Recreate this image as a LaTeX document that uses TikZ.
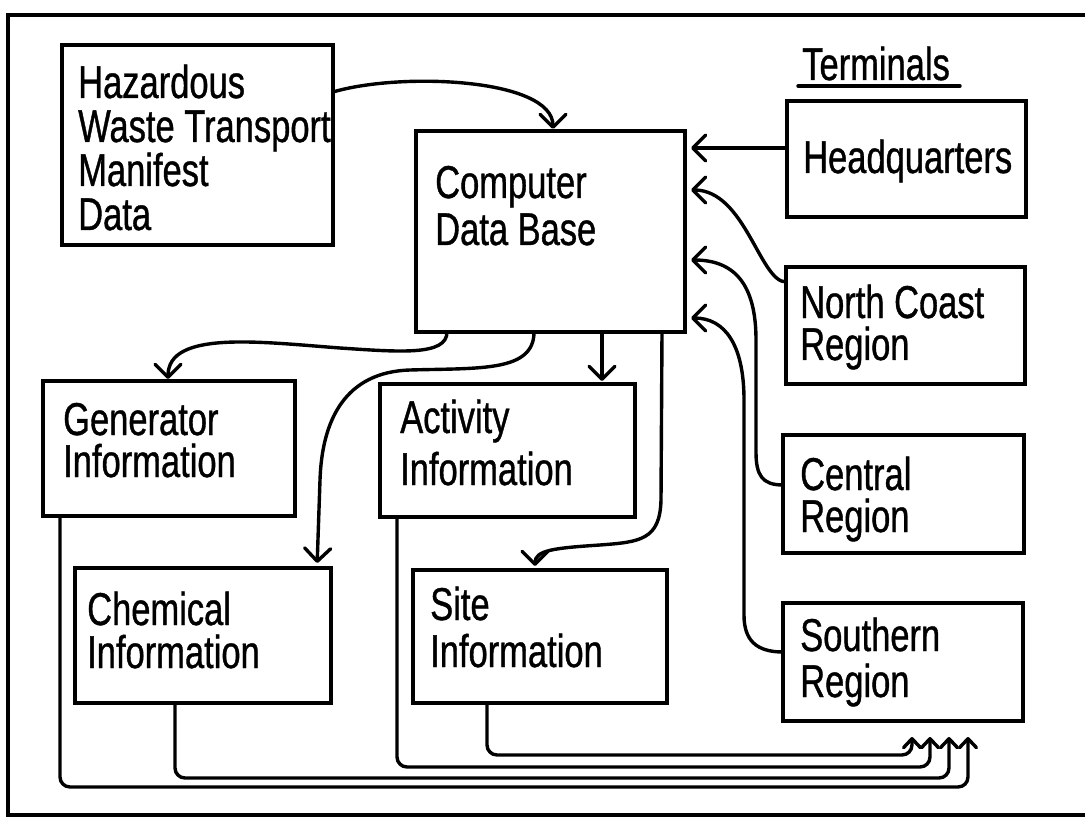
\documentclass[tikz,border=0pt]{standalone}
\usepackage{fontspec}
\setmainfont{Liberation Sans}[FakeStretch=0.75,FakeBold=0.8]
\usetikzlibrary{arrows.meta}
\begin{document}
\begin{tikzpicture}[x=1pt,y=-1pt,
  box/.style={draw, line width=4pt, anchor=north west, inner sep=0pt, outer sep=0pt},
  % text blocks are placed by the baseline of their last line
  lbl/.style={anchor=base west, inner sep=0pt, align=left,
    font=\fontsize{46}{#1}\selectfont},
  lbl/.default=44,
  link/.style={line width=3.4pt, line cap=round, line join=round,
    -{Straight Barb[length=13pt,width=26pt,round]}},
  back/.style={line width=3.4pt, line cap=round, rounded corners=10pt,
    -{Straight Barb[length=9pt,width=17pt,round]}, shorten >=16pt},
]
\useasboundingbox (0,0) rectangle (1085,818);

% page frame
\draw[line width=4pt] (1095,15) -- (8,15) -- (8,815) -- (1095,815);

% boxes
\node[box, minimum width=271pt, minimum height=200pt] (haz)  at (62,45)   {};
\node[box, minimum width=269pt, minimum height=201pt] (cdb)  at (416,131) {};
\node[box, minimum width=239pt, minimum height=116pt] (hq)   at (787,101) {};
\node[box, minimum width=239pt, minimum height=117pt] (nc)   at (786,267) {};
\node[box, minimum width=241pt, minimum height=118pt] (cen)  at (783,435) {};
\node[box, minimum width=240pt, minimum height=118pt] (sou)  at (783,603) {};
\node[box, minimum width=252pt, minimum height=135pt] (gen)  at (43,381)  {};
\node[box, minimum width=255pt, minimum height=133pt] (act)  at (380,384) {};
\node[box, minimum width=256pt, minimum height=135pt] (chem) at (75,568)  {};
\node[box, minimum width=254pt, minimum height=133pt] (site) at (413,570) {};

% box texts
\node[lbl=44] (hazT)  at (78,230)  {Hazardous\\Waste Transport\\Manifest\\Data};
\node[lbl=47] (cdbT)  at (435,245) {Computer\\Data Base};
\node[lbl]    (hqT)   at (803,173) {Headquarters};
\node[lbl=42] (ncT)   at (800,360) {North Coast\\Region};
\node[lbl=42] (cenT)  at (800,532) {Central\\Region};
\node[lbl=46] (souT)  at (800,697) {Southern\\Region};
\node[lbl=42] (genT)  at (63,477)  {Generator\\Information};
\node[lbl=52] (actT)  at (400,485) {Activity\\Information};
\node[lbl=43] (chemT) at (87,668)  {Chemical\\Information};
\node[lbl=47] (siteT) at (430,667) {Site\\Information};

% heading over the terminal column
\node[lbl] (term) at (802,80) {Terminals};
\draw[line width=3.4pt, line cap=round]
  ([xshift=-4pt,yshift=-6pt]term.base west) -- ([xshift=10pt,yshift=-6pt]term.base east);

% manifest data into the data base
\draw[link, shorten >=2pt] ([yshift=-47pt]haz.north east)
  .. controls (400,72) and (553,78) .. ([xshift=137pt]cdb.north west);

% terminals into the data base
\draw[link, shorten >=6pt] ([yshift=-47pt]hq.north west) -- ([yshift=-17pt]cdb.north east);
\draw[link, shorten >=6pt] ([yshift=-15pt]nc.north west)
  .. controls (760,282) and (745,190) .. ([yshift=-59pt]cdb.north east);
\draw[link, shorten >=6pt] ([yshift=-50pt]cen.north west)
  .. controls (762,485) and (756,475) .. (756,452) -- (756,340)
  .. controls (756,285) and (735,260) .. ([yshift=-129pt]cdb.north east);
\draw[link, shorten >=6pt] ([yshift=-49pt]sou.north west)
  .. controls (756,652) and (744,640) .. (744,615) -- (744,400)
  .. controls (744,345) and (725,318) .. ([yshift=-187pt]cdb.north east);

% data base out to the information files
\draw[link, shorten >=2pt] ([xshift=31pt]cdb.south west)
  .. controls (447,356) and (400,352) .. (340,348)
  .. controls (260,342) and (168,330) .. ([xshift=125pt]gen.north west);
\draw[link, shorten >=5pt] ([xshift=118pt]cdb.south west)
  .. controls (534,372) and (480,368) .. (410,370)
  .. controls (345,372) and (322,420) .. (320,480) -- ([xshift=242pt]chem.north west);
\draw[link, shorten >=3pt] ([xshift=186pt]cdb.south west) -- ([xshift=222pt]act.north west);
\draw[link, shorten >=4pt] ([xshift=246pt]cdb.south west) -- (661,500)
  .. controls (660,540) and (640,542) .. (600,545)
  .. controls (555,548) and (535,550) .. ([xshift=122pt]site.north west);

% information files back out to the terminals
\draw[back] ([xshift=74pt]site.south west) |- ([xshift=129pt,yshift=-34pt]sou.south west)
  -- ([xshift=129pt]sou.south west);
\draw[back] ([xshift=17pt]act.south west) |- ([xshift=147pt,yshift=-46pt]sou.south west)
  -- ([xshift=147pt]sou.south west);
\draw[back] ([xshift=100pt]chem.south west) |- ([xshift=166pt,yshift=-57pt]sou.south west)
  -- ([xshift=166pt]sou.south west);
\draw[back] ([xshift=17pt]gen.south west) |- ([xshift=185pt,yshift=-66pt]sou.south west)
  -- ([xshift=185pt]sou.south west);
\end{tikzpicture}
\end{document}
